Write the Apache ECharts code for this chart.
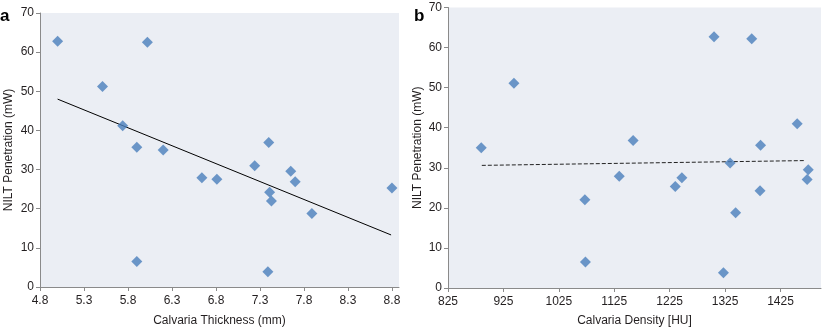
<!DOCTYPE html>
<html>
<head>
<meta charset="utf-8">
<script src="https://cdn.jsdelivr.net/npm/echarts@6/dist/echarts.min.js"></script>
<style>
html,body{margin:0;padding:0;background:#fff;}
#c{width:823px;height:332px;}
</style>
</head>
<body>
<div id="c"></div>
<script>
// Panel a: Calvaria thickness vs NILT penetration
var thicknessX = [5.0, 6.02, 5.51, 5.74, 5.90, 6.20, 7.24, 7.40, 6.64, 6.81, 7.65, 7.70, 7.41, 7.43, 7.89, 8.80, 5.90, 7.39];
var thicknessY = [62.8, 62.5, 51.2, 41.2, 35.7, 35.0, 31.0, 36.9, 27.9, 27.5, 29.6, 26.9, 24.2, 22.0, 18.8, 25.3, 6.5, 3.9];
var trendAX = [5.0, 8.79];
var trendAY = [48.0, 13.3];
var ticksAX = [4.8, 5.3, 5.8, 6.3, 6.8, 7.3, 7.8, 8.3, 8.8];

// Panel b: Calvaria density vs NILT penetration
var densityX = [885, 944, 1159, 1305, 1373, 1455, 1389, 1334, 1475, 1473, 1134, 1235, 1247, 1072, 1388, 1344, 1073, 1322];
var densityY = [35.0, 51.1, 36.8, 62.7, 62.2, 41.0, 35.6, 31.2, 29.5, 27.1, 27.9, 25.3, 27.5, 22.0, 24.3, 18.8, 6.5, 3.8];
var trendBX = [886, 1469];
var trendBY = [30.6, 31.8];
var ticksBX = [825, 925, 1025, 1125, 1225, 1325, 1425];

var yTitle = 'NILT Penetration (mW)';
var xTitleA = 'Calvaria Thickness (mm)';
var xTitleB = 'Calvaria Density [HU]';
var panelLabels = ['a', 'b'];

function zip(xs, ys) { return xs.map(function (x, i) { return [x, ys[i]]; }); }

var FONT = 'Liberation Sans, Arial, sans-serif';
var TXT = '#231f20';
var AX = '#8a8a8a';

function xAxisCfg(grid, min, max, ticks, name, gap, dec) {
  return {
    type: 'value', gridIndex: grid, min: min, max: max,
    name: name, nameLocation: 'middle', nameGap: gap,
    nameTextStyle: { fontFamily: FONT, fontSize: 12, color: TXT },
    axisLine: { show: true, onZero: false, lineStyle: { color: AX, width: 1 } },
    axisTick: { show: true, length: 4, customValues: ticks, lineStyle: { color: AX } },
    axisLabel: { customValues: ticks, margin: 8, fontFamily: FONT, fontSize: 12, color: TXT,
      formatter: function (v) { return dec ? v.toFixed(dec) : String(v); } },
    splitLine: { show: false }
  };
}
function yAxisCfg(grid, gap) {
  return {
    type: 'value', gridIndex: grid, min: 0, max: 70, interval: 10,
    name: yTitle, nameLocation: 'middle', nameGap: gap, nameRotate: 90,
    nameTextStyle: { fontFamily: FONT, fontSize: 12, color: TXT },
    axisLine: { show: true, onZero: false, lineStyle: { color: AX, width: 1 } },
    axisTick: { show: true, length: 4, lineStyle: { color: AX } },
    axisLabel: { margin: 6, fontFamily: FONT, fontSize: 12, color: TXT },
    splitLine: { show: false }
  };
}

var chart = echarts.init(document.getElementById('c'), null, { renderer: 'canvas' });
chart.setOption({
  animation: false,
  backgroundColor: '#ffffff',
  grid: [
    { left: 40, top: 13, width: 359, height: 274, show: true, backgroundColor: '#ebeef4', borderWidth: 0 },
    { left: 448, top: 7.5, width: 373, height: 285, show: true, backgroundColor: '#ebeef4', borderWidth: 0 }
  ],
  xAxis: [
    xAxisCfg(0, 4.8, 8.88, ticksAX, xTitleA, 28, 1),
    xAxisCfg(1, 825, 1498, ticksBX, xTitleB, 27, 0)
  ],
  yAxis: [yAxisCfg(0, 25), yAxisCfg(1, 24)],
  graphic: [
    { type: 'text', left: 0, top: 8, style: { text: panelLabels[0], fontFamily: FONT, fontSize: 17, fontWeight: 'bold', fill: '#000' } },
    { type: 'text', left: 414, top: 8, style: { text: panelLabels[1], fontFamily: FONT, fontSize: 17, fontWeight: 'bold', fill: '#000' } }
  ],
  series: [
    { type: 'line', xAxisIndex: 0, yAxisIndex: 0, data: zip(trendAX, trendAY), showSymbol: false, symbol: 'none',
      lineStyle: { color: '#000', width: 1 }, z: 2 },
    { type: 'scatter', xAxisIndex: 0, yAxisIndex: 0, data: zip(thicknessX, thicknessY), symbol: 'diamond', symbolSize: 11,
      itemStyle: { color: '#4a7ebb' }, z: 3 },
    { type: 'line', xAxisIndex: 1, yAxisIndex: 1, data: zip(trendBX, trendBY), showSymbol: false, symbol: 'none',
      lineStyle: { color: '#222', width: 1, type: [4, 2] }, z: 2 },
    { type: 'scatter', xAxisIndex: 1, yAxisIndex: 1, data: zip(densityX, densityY), symbol: 'diamond', symbolSize: 11,
      itemStyle: { color: '#4a7ebb' }, z: 3 }
  ]
});
</script>
</body>
</html>
